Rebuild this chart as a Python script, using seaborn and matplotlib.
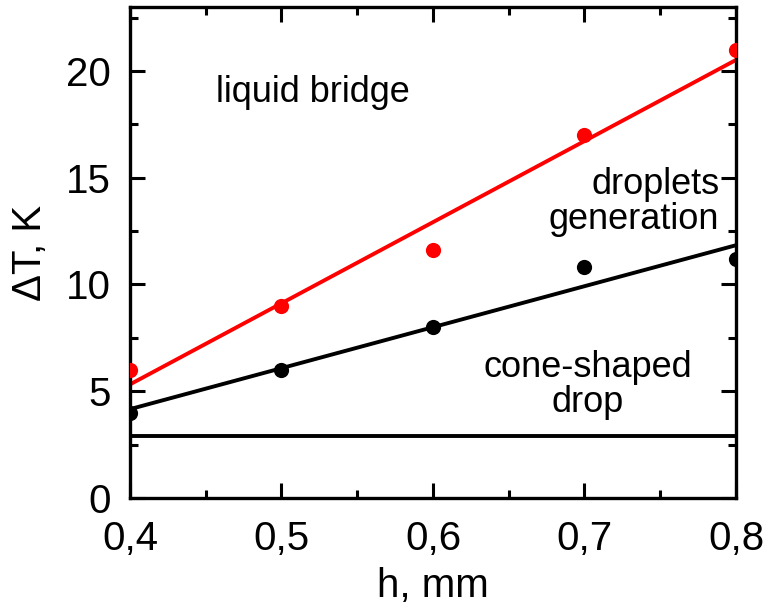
import numpy as np
import matplotlib
matplotlib.use("Agg")
import matplotlib.pyplot as plt
import seaborn as sns
from matplotlib.ticker import MultipleLocator, FuncFormatter

# Gap height, mm
h_mm = [0.4, 0.5, 0.6, 0.7, 0.8]
# Temperature difference for the upper transition (liquid bridge), K
dT_bridge = [6.0, 9.0, 11.6, 17.0, 21.0]
# Temperature difference for the lower transition (droplets generation), K
dT_droplets = [4.0, 6.0, 8.0, 10.8, 11.2]
# Lower threshold for cone-shaped drop, K
dT_cone = 2.9

sns.set_style("ticks")
plt.rcParams['font.family'] = ['Liberation Sans', 'DejaVu Sans']
plt.rcParams['text.color'] = 'black'
plt.rcParams['axes.labelcolor'] = 'black'
plt.rcParams['xtick.color'] = 'black'
plt.rcParams['ytick.color'] = 'black'
plt.rcParams['axes.edgecolor'] = 'black'

fig = plt.figure(figsize=(7.71, 6.14), dpi=100)
ax = fig.add_axes([0.1686, 0.189, 0.786, 0.7996])

# red series + linear fit
sns.regplot(x=h_mm, y=dT_bridge, ax=ax, ci=None, truncate=True, color="red",
            scatter_kws={"s": 120, "zorder": 3, "linewidths": 0, "alpha": 1},
            line_kws={"lw": 2.8})
# black series + linear fit
sns.regplot(x=h_mm, y=dT_droplets, ax=ax, ci=None, truncate=True, color="black",
            scatter_kws={"s": 120, "zorder": 3, "linewidths": 0, "alpha": 1},
            line_kws={"lw": 2.8})
ax.axhline(dT_cone, color="black", lw=2.8)

ax.set_xlim(0.4, 0.8)
ax.set_ylim(0, 23)
ax.xaxis.set_major_locator(MultipleLocator(0.1))
ax.xaxis.set_minor_locator(MultipleLocator(0.05))
ax.yaxis.set_major_locator(MultipleLocator(5))
ax.yaxis.set_minor_locator(MultipleLocator(2.5))
ax.xaxis.set_major_formatter(FuncFormatter(lambda v, p: f"{v:.1f}".replace(".", ",")))

ax.tick_params(which="both", direction="in", top=True, right=True, width=2.2,
               labelsize=29)
ax.tick_params(axis="x", pad=16)
ax.tick_params(axis="y", pad=14)
ax.tick_params(which="major", length=11)
ax.tick_params(which="minor", length=6)
for s in ax.spines.values():
    s.set_linewidth(2.4)
    s.set_visible(True)

ax.set_xlabel("h, mm", fontsize=29, labelpad=6)
ax.set_ylabel("ΔT, K", fontsize=29, labelpad=12)

ax.text(0.521, 19.0, "liquid bridge", fontsize=26, ha="center", va="center")
ax.text(0.789, 13.85, "droplets\ngeneration", fontsize=26, ha="right", va="center",
        multialignment="right", linespacing=1.0)
ax.text(0.702, 5.3, "cone-shaped\ndrop", fontsize=26, ha="center", va="center",
        multialignment="center", linespacing=1.0)

fig.savefig("out.png", dpi=100)
